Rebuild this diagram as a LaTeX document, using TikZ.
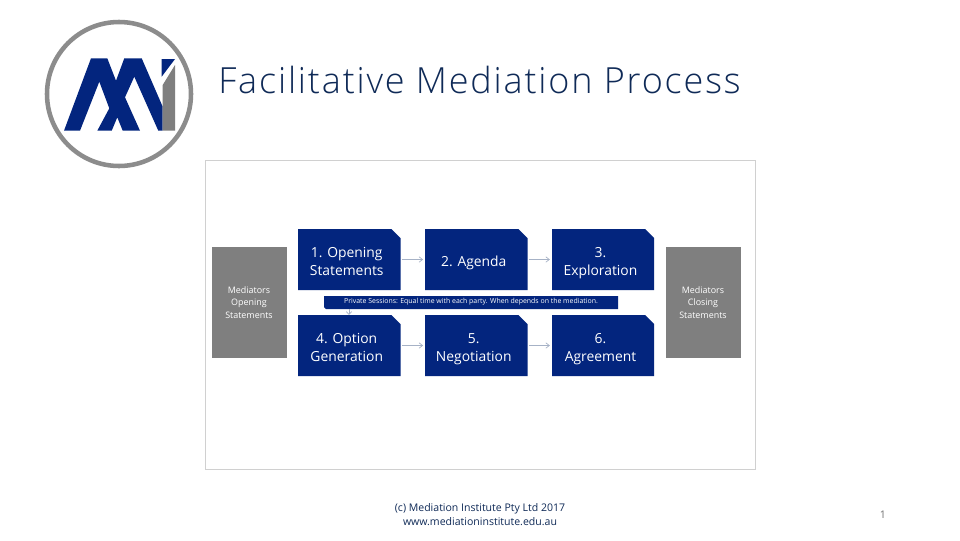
\documentclass[tikz,border=0pt]{standalone}
\usepackage{fontspec}
\setmainfont{Open Sans}
\newfontfamily\thinfont[LetterSpace=5.1]{Open Sans Light}
\usetikzlibrary{arrows.meta}
\definecolor{navy}{HTML}{03257E}
\definecolor{grayb}{HTML}{7F7F7F}
\definecolor{ring}{HTML}{8C8C8C}
\definecolor{panel}{HTML}{D0D0D0}
\definecolor{arrowc}{HTML}{A6B2C6}
\definecolor{titlec}{HTML}{0F2A57}
\tikzset{
 px/.style={x=0.75pt,y=-0.75pt},
 stepbox/.style={text=white,font=\fontsize{10.4pt}{13.3pt}\selectfont,align=center,inner sep=0pt},
 stepframe/.style={inner sep=0pt,minimum width=76.9pt,minimum height=45.75pt},
 graybox/.style={fill=grayb,text=white,font=\fontsize{6.7pt}{9.3pt}\selectfont,align=center,inner sep=0pt,minimum width=56.25pt,minimum height=83.25pt},
 flow/.style={draw=arrowc,line width=0.5pt,shorten <=1.2pt,shorten >=1.2pt,-{Straight Barb[length=2.6pt,width=4pt]}},
 foot/.style={text=titlec,font=\fontsize{7.9pt}{10.2pt}\selectfont,align=center,inner sep=0pt}
}
\newcommand{\cutbox}[6]{% name x1 y1 x2 y2 text
 \fill[navy] (#2,#3) -- (#4-9,#3) -- (#4,#3+9) -- (#4,#5) -- (#2,#5) -- cycle;
 \node[stepframe] (#1) at ({(#2+#4)/2},{(#3+#5)/2}) {};
 \node[stepbox] (#1t) at ({(#2+#4)/2-2.5},{(#3+#5)/2+3.7}) {#6};
}
\begin{document}
\begin{tikzpicture}[px]
\useasboundingbox (0,0) rectangle (960,540);
\fill[white] (0,0) rectangle (960,540);
% logo
\draw[ring,line width=3.4pt] (119,94) circle (72);
\fill[navy] (64,130.7) -- (91,58.3) -- (107.3,58.3) -- (116,80.7) -- (124.3,58.3) -- (141.7,58.3) -- (162.7,106.7) -- (162.7,130.7) -- (158.3,130.7) -- (134.3,76.7) -- (125,97.3) -- (140,130.7) -- (122.7,130.7) -- (117.3,117.3) -- (111.7,130.7) -- (97.3,130.7) -- (109.3,108.3) -- (99.3,81.7) -- (80,130.7) -- cycle;
\fill[navy] (161.7,59) -- (175,59) -- (161.7,76.7) -- cycle;
\fill[grayb] (162.7,130.7) -- (162.7,85) -- (175,65) -- (175,130.7) -- cycle;
% title
\node[anchor=west,inner sep=0pt,text=titlec,font=\thinfont\fontsize{27pt}{32pt}\selectfont] (title) at (218,80) {Facilitative Mediation Process};
% panel
\draw[panel,line width=0.75pt] (205.5,160.5) rectangle (755,469);
\node[graybox] (open) at (249,302.5) {Mediators\\Opening\\Statements};
\node[graybox] (close) at (703,302.5) {Mediators\\Closing\\Statements};
\cutbox{s1}{298}{229}{400.5}{290}{\strut 1. Opening\\Statements\strut}
\cutbox{s2}{425}{229}{527.5}{290}{\strut 2. Agenda\strut}
\cutbox{s3}{552}{229}{654}{290}{\strut 3.\\Exploration\strut}
\cutbox{s4}{298}{315}{400.5}{376}{\strut 4. Option\\Generation\strut}
\cutbox{s5}{425}{315}{527.5}{376}{\strut 5.\\Negotiation\strut}
\cutbox{s6}{552}{315}{654}{376}{\strut 6.\\Agreement\strut}
\draw[flow] (s1) -- (s2);
\draw[flow] (s2) -- (s3);
\draw[flow] (s4) -- (s5);
\draw[flow] (s5) -- (s6);
\fill[navy] (324,296) -- (618,296) -- (618,309) -- (326,309) -- (324,307) -- cycle;
\node[inner sep=0pt,text=white,font=\fontsize{5.2pt}{6pt}\selectfont] (priv) at (471,302) {Private Sessions: Equal time with each party. When depends on the mediation.};
\coordinate (privstart) at (349,309);
\coordinate (privend) at (349,315);
\draw[draw=arrowc,line width=0.5pt,-{Straight Barb[length=2.2pt,width=4pt]}] (privstart) -- (privend);
% footer
\node[foot] (f) at (480,514.5) {(c) Mediation Institute Pty Ltd 2017\\www.mediationinstitute.edu.au};
\node[foot,text=gray!90!black] (pg) at (883,514.5) {1};
\end{tikzpicture}
\end{document}
